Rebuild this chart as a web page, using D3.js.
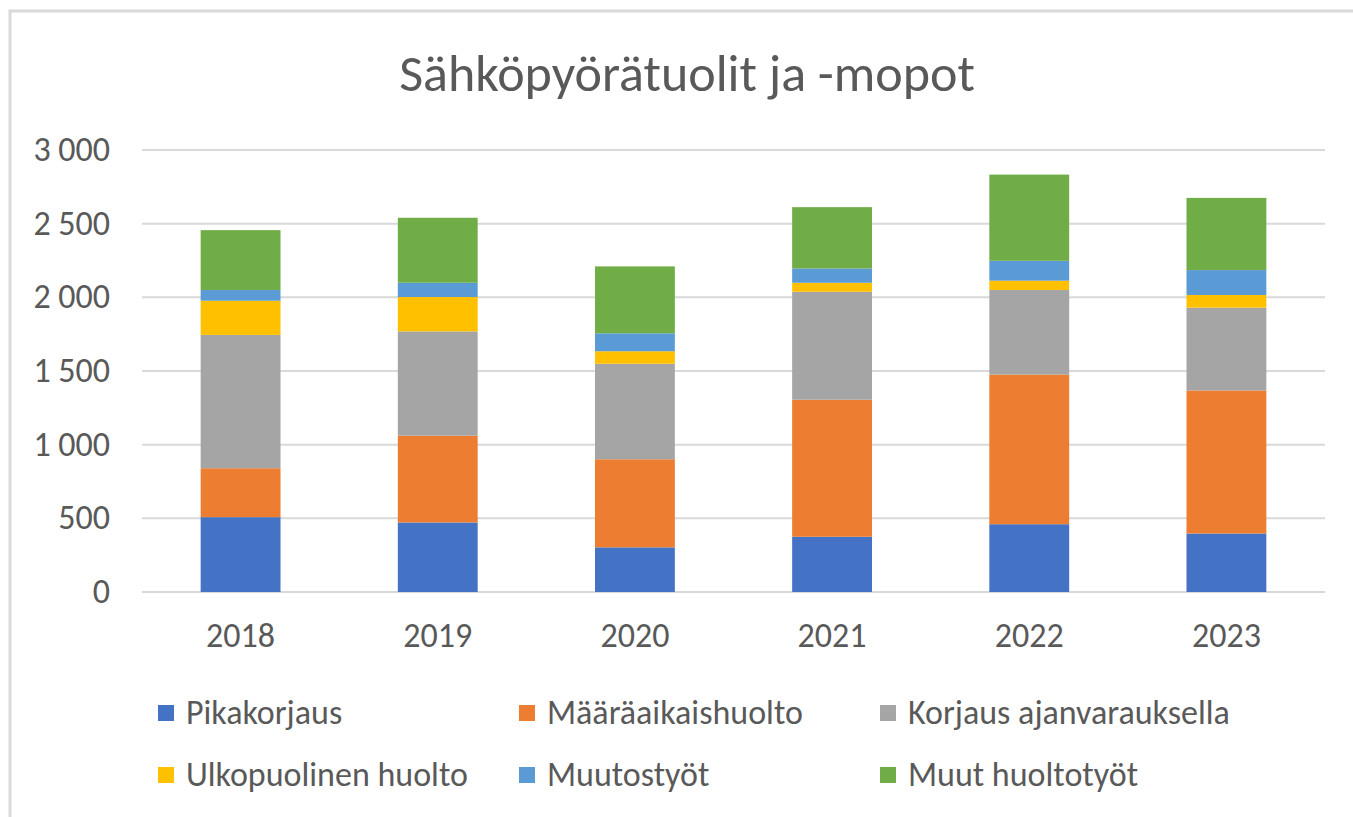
<!DOCTYPE html>
<html>
<head>
<meta charset="utf-8">
<script src="https://cdn.jsdelivr.net/npm/d3@7"></script>
<style>
  html, body { margin: 0; padding: 0; background: #fff; }
  svg { display: block; }
  text { font-family: Carlito, 'Open Sans', sans-serif; fill: #595959; }
</style>
</head>
<body>
<div id="chart"></div>
<script>
(function () {
  'use strict';

  // Data
  var years = ['2018', '2019', '2020', '2021', '2022', '2023'];
  var seriesNames = ['Pikakorjaus', 'Määräaikaishuolto', 'Korjaus ajanvarauksella',
    'Ulkopuolinen huolto', 'Muutostyöt', 'Muut huoltotyöt'];
  var pikakorjaus = [508, 472, 303, 375, 460, 397];
  var maaraaikaishuolto = [332, 589, 598, 930, 1016, 971];
  var korjausAjanvarauksella = [905, 708, 648, 733, 574, 562];
  var ulkopuolinenHuolto = [232, 233, 85, 61, 63, 86];
  var muutostyot = [73, 97, 122, 97, 135, 169];
  var muutHuoltotyot = [406, 441, 454, 416, 585, 490];
  var yTicks = [0, 500, 1000, 1500, 2000, 2500, 3000];
  var colors = ['#4472c4', '#ed7d31', '#a5a5a5', '#ffc000', '#5b9bd5', '#70ad47'];

  var values = [pikakorjaus, maaraaikaishuolto, korjausAjanvarauksella,
    ulkopuolinenHuolto, muutostyot, muutHuoltotyot];

  var width = 1353, height = 817;
  var svg = d3.select('#chart').append('svg').attr('width', width).attr('height', height);

  // chart frame
  svg.append('rect').attr('x', 10).attr('y', 11).attr('width', width + 20).attr('height', height + 20)
    .attr('fill', '#fff').attr('stroke', '#d9d9d9').attr('stroke-width', 3);

  svg.append('text').attr('x', 687).attr('y', 91).attr('text-anchor', 'middle')
    .style('font-size', '52px').text('Sähköpyörätuolit ja -mopot');

  var rows = years.map(function (y, i) {
    var r = { year: y };
    seriesNames.forEach(function (s, j) { r[s] = values[j][i]; });
    return r;
  });
  var stacked = d3.stack().keys(seriesNames)(rows);

  var x = d3.scaleBand().domain(years).range([142, 1325]).paddingInner(0.595).paddingOuter(0.2975);
  var y = d3.scaleLinear().domain([0, 3000]).range([592, 150]);

  // gridlines
  svg.append('g').selectAll('line').data(yTicks).enter().append('line')
    .attr('x1', 142).attr('x2', 1325)
    .attr('y1', function (d) { return y(d); }).attr('y2', function (d) { return y(d); })
    .attr('stroke', '#d9d9d9').attr('stroke-width', 2);

  // y labels
  var fmt = function (d) { return d3.format(',')(d).replace(/,/g, ' '); };
  svg.append('g').selectAll('text').data(yTicks).enter().append('text')
    .attr('x', 110).attr('y', function (d) { return y(d) + 11; })
    .attr('text-anchor', 'end').style('font-size', '34px').text(fmt);

  // bars
  svg.append('g').selectAll('g').data(stacked).enter().append('g')
    .attr('fill', function (d, i) { return colors[i]; })
    .selectAll('rect').data(function (d) { return d; }).enter().append('rect')
    .attr('x', function (d) { return x(d.data.year); })
    .attr('width', x.bandwidth())
    .attr('y', function (d) { return y(d[1]); })
    .attr('height', function (d) { return y(d[0]) - y(d[1]); });

  // x labels
  svg.append('g').selectAll('text').data(years).enter().append('text')
    .attr('x', function (d) { return x(d) + x.bandwidth() / 2; })
    .attr('y', 647).attr('text-anchor', 'middle').style('font-size', '34px').text(function (d) { return d; });

  // legend
  var legX = [158, 519, 880], legY = [713, 775];
  var leg = svg.append('g').selectAll('g').data(seriesNames).enter().append('g')
    .attr('transform', function (d, i) { return 'translate(' + legX[i % 3] + ',' + legY[Math.floor(i / 3)] + ')'; });
  leg.append('rect').attr('x', 0).attr('y', -8).attr('width', 16).attr('height', 16)
    .attr('fill', function (d, i) { return colors[i]; });
  leg.append('text').attr('x', 28).attr('y', 11).style('font-size', '34px').text(function (d) { return d; });
})();
</script>
</body>
</html>
